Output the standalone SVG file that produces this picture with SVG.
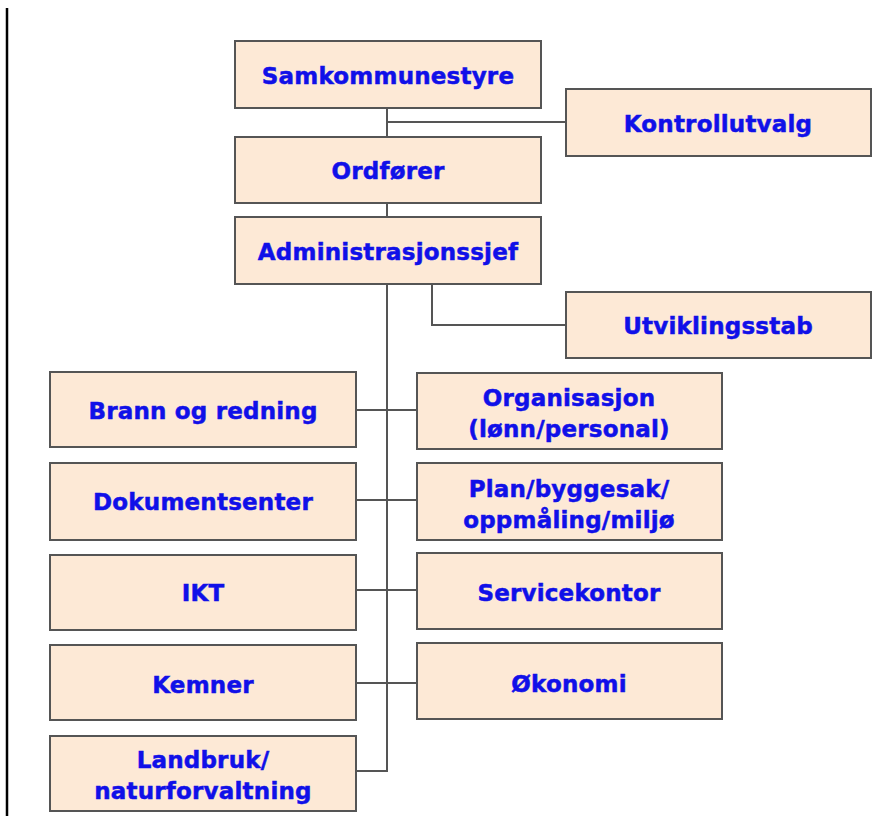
<svg xmlns="http://www.w3.org/2000/svg" width="894" height="816" viewBox="0 0 894 816">
<style>
.box{fill:#fde9d6;stroke:#555;stroke-width:2}
.lbl{font-family:"DejaVu Sans",Verdana,sans-serif;font-weight:bold;font-size:23px;letter-spacing:0.2px;fill:#1010e8;stroke:#1010e8;stroke-width:0.5;text-anchor:middle}
.con{fill:none;stroke:#555;stroke-width:2}
</style>
<rect width="894" height="816" fill="#fff"/>
<line x1="7" y1="8" x2="7" y2="816" stroke="#000" stroke-width="2.5"/>
<g id="connectors">
<path class="con" d="M387 108V137M387 122H566M387 203V217M387 284V771H356M432 284V325H566M356 410H417M356 500H417M356 590H417M356 683H417"/>
</g>
<g id="samkommunestyre"><rect class="box" x="235" y="41" width="306" height="67"/><text class="lbl" x="388" y="84">Samkommunestyre</text></g>
<g id="kontrollutvalg"><rect class="box" x="566" y="89" width="305" height="67"/><text class="lbl" x="718" y="132">Kontrollutvalg</text></g>
<g id="ordforer"><rect class="box" x="235" y="137" width="306" height="66"/><text class="lbl" x="388" y="179">Ordfører</text></g>
<g id="administrasjonssjef"><rect class="box" x="235" y="217" width="306" height="67"/><text class="lbl" x="388" y="260">Administrasjonssjef</text></g>
<g id="utviklingsstab"><rect class="box" x="566" y="292" width="305" height="66"/><text class="lbl" x="718" y="334">Utviklingsstab</text></g>
<g id="brann"><rect class="box" x="50" y="372" width="306" height="75"/><text class="lbl" x="203" y="419">Brann og redning</text></g>
<g id="organisasjon"><rect class="box" x="417" y="373" width="305" height="76"/><text class="lbl" x="569" y="406">Organisasjon</text><text class="lbl" x="569" y="437">(lønn/personal)</text></g>
<g id="dokumentsenter"><rect class="box" x="50" y="463" width="306" height="77"/><text class="lbl" x="203" y="510">Dokumentsenter</text></g>
<g id="plan"><rect class="box" x="417" y="463" width="305" height="77"/><text class="lbl" x="569" y="497">Plan/byggesak/</text><text class="lbl" x="569" y="528">oppmåling/miljø</text></g>
<g id="ikt"><rect class="box" x="50" y="555" width="306" height="75"/><text class="lbl" x="203" y="601">IKT</text></g>
<g id="servicekontor"><rect class="box" x="417" y="553" width="305" height="76"/><text class="lbl" x="569" y="601">Servicekontor</text></g>
<g id="kemner"><rect class="box" x="50" y="645" width="306" height="75"/><text class="lbl" x="203" y="693">Kemner</text></g>
<g id="okonomi"><rect class="box" x="417" y="643" width="305" height="76"/><text class="lbl" x="569" y="692">Økonomi</text></g>
<g id="landbruk"><rect class="box" x="50" y="736" width="306" height="75"/><text class="lbl" x="203" y="768">Landbruk/</text><text class="lbl" x="203" y="799">naturforvaltning</text></g>
</svg>
